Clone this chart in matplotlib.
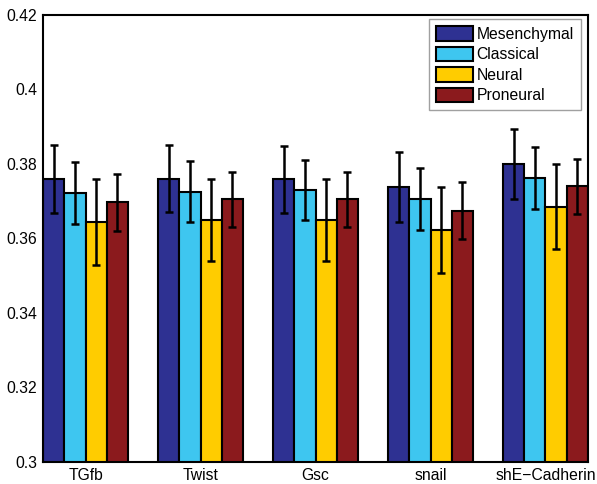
import matplotlib
matplotlib.use("Agg")
import matplotlib.pyplot as plt
import numpy as np

plt.rcParams['font.family'] = ['Liberation Sans', 'DejaVu Sans']

categories = ["TGfb", "Twist", "Gsc", "snail", "shE\u2212Cadherin"]
series_names = ["Mesenchymal", "Classical", "Neural", "Proneural"]
colors = ["#2E3192", "#3EC6F0", "#FFCC00", "#8B1A1D"]

mesenchymal = [0.3759, 0.3760, 0.3759, 0.3739, 0.3800]
classical = [0.3722, 0.3726, 0.3730, 0.3706, 0.3762]
neural = [0.3644, 0.3650, 0.3650, 0.3623, 0.3685]
proneural = [0.3697, 0.3705, 0.3705, 0.3675, 0.3740]

mesenchymal_err = [0.0091, 0.0090, 0.0090, 0.0094, 0.0093]
classical_err = [0.0083, 0.0083, 0.0081, 0.0084, 0.0084]
neural_err = [0.0115, 0.0110, 0.0110, 0.0115, 0.0114]
proneural_err = [0.0076, 0.0074, 0.0074, 0.0076, 0.0074]

yticks = [0.30, 0.32, 0.34, 0.36, 0.38, 0.40, 0.42]
ytick_labels = ["0.3", "0.32", "0.34", "0.36", "0.38", "0.4", "0.42"]

values = [mesenchymal, classical, neural, proneural]
errors = [mesenchymal_err, classical_err, neural_err, proneural_err]

fs = 11.3

fig = plt.figure(figsize=(5.97, 4.84), dpi=100)
ax = fig.add_axes([0.072, 0.0455, 0.913, 0.9235])

x = np.arange(1, len(categories) + 1)
w = 0.185
for i, (vals, errs, c, name) in enumerate(zip(values, errors, colors, series_names)):
    pos = x + (i - 1.5) * w
    ax.bar(pos, vals, width=w, color=c, edgecolor="black", linewidth=1.5, label=name, zorder=2)
    ax.errorbar(pos, vals, yerr=errs, fmt="none", ecolor="black", elinewidth=1.8,
                capsize=2.7, capthick=1.8, zorder=3)

ax.set_xlim(1 - 2 * w, len(categories) + 2 * w)
ax.set_ylim(0.30, 0.42)
ax.set_yticks(yticks)
ax.set_yticklabels(ytick_labels)
ax.set_xticks(x)
ax.set_xticklabels(categories)
ax.tick_params(axis="both", labelsize=fs, direction="in", length=0, pad=4)
for s in ax.spines.values():
    s.set_linewidth(1.5)

leg = ax.legend(loc="upper right", bbox_to_anchor=(0.987, 0.991), fontsize=fs,
                frameon=True, fancybox=False, edgecolor="#888888",
                handlelength=2.36, handleheight=1.08, handletextpad=0.25,
                labelspacing=0.3, borderpad=0.45, borderaxespad=0.0)
leg.get_frame().set_linewidth(1.0)

fig.savefig("out.png", dpi=100)
